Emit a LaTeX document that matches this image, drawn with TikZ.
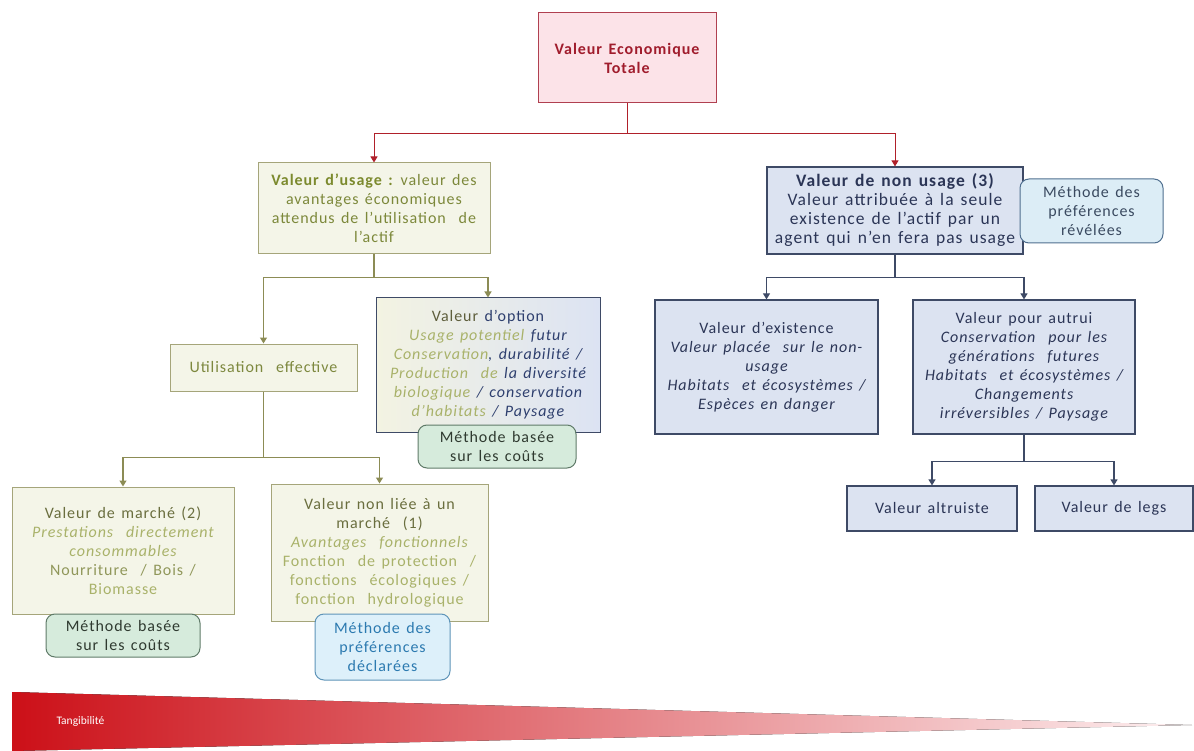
\documentclass[tikz,border=0pt]{standalone}
\usepackage{fontspec}
\setmainfont{Carlito}[LetterSpace=6, WordSpace=1.4]
\newfontfamily\tangfont{Carlito}
\usetikzlibrary{arrows.meta}

\definecolor{vetfill}{HTML}{FCE3E8}
\definecolor{vetdraw}{HTML}{B04050}
\definecolor{vettext}{HTML}{A01C2C}
\definecolor{redline}{HTML}{B0202A}
\definecolor{olvfill}{HTML}{F4F5E8}
\definecolor{olvdraw}{HTML}{A5A57A}
\definecolor{olvline}{HTML}{8C8C55}
\definecolor{olvhead}{HTML}{7C8A2E}
\definecolor{olvtext}{HTML}{6A6E3E}
\definecolor{olvlight}{HTML}{A9B26A}
\definecolor{olvgray}{HTML}{5E5E3C}
\definecolor{nvyfill}{HTML}{DCE3F1}
\definecolor{nvydraw}{HTML}{3E4A66}
\definecolor{nvytext}{HTML}{2B3556}
\definecolor{nvyitem}{HTML}{2E3F6E}
\definecolor{grnfill}{HTML}{D6EBDC}
\definecolor{grndraw}{HTML}{5F7A68}
\definecolor{grntext}{HTML}{2F3A30}
\definecolor{blufill}{HTML}{DDF0FA}
\definecolor{bludraw}{HTML}{5E94B8}
\definecolor{blutext}{HTML}{2C7AB0}
\definecolor{revfill}{HTML}{DCEDF6}
\definecolor{revdraw}{HTML}{4F6F8F}
\definecolor{revtext}{HTML}{3A4A60}
\definecolor{optleft}{HTML}{F3F3E2}
\definecolor{optright}{HTML}{DCE3F3}
\definecolor{tangred}{HTML}{CC1018}
\definecolor{tanglight}{HTML}{FDF0F1}

\tikzset{
  box/.style={draw, inner sep=0pt, align=center, font=\fontsize{16}{19}\selectfont},
  vetbox/.style={box, fill=vetfill, draw=vetdraw, line width=1pt, text=vettext},
  olvbox/.style={box, fill=olvfill, draw=olvdraw, line width=1pt, text=olvtext},
  nvybox/.style={box, fill=nvyfill, draw=nvydraw, line width=1.2pt, text=nvytext},
  grnmeth/.style={box, rounded corners=9pt, fill=grnfill, draw=grndraw, line width=1pt, text=grntext},
  blumeth/.style={box, rounded corners=9pt, fill=blufill, draw=bludraw, line width=1pt, text=blutext},
  revmeth/.style={box, rounded corners=9pt, fill=revfill, draw=revdraw, line width=1pt, text=revtext},
  tip/.style={-{Triangle[width=7pt,length=6pt]}},
  redlink/.style={draw=redline, line width=1pt},
  olvlink/.style={draw=olvline, line width=1.2pt},
  nvylink/.style={draw=nvydraw, line width=1.2pt},
}

\begin{document}
\begin{tikzpicture}[x=1pt, y=-1pt]
\useasboundingbox (0,0) rectangle (1194,751);

% Top level
\node[vetbox, minimum width=178pt, minimum height=90pt] (vet) at (627,58)
  {\bfseries Valeur Economique\\\bfseries Totale};

% Second level
\node[olvbox, minimum width=232pt, minimum height=91pt] (usage) at (374,208.5)
  {{\bfseries\color{olvhead}Valeur d’usage :} {\color{olvhead!85!gray}valeur des}\\
   {\color{olvhead!85!gray}avantages économiques}\\
   {\color{olvhead!85!gray}attendus de l’utilisation\ \ de}\\
   {\color{olvhead!85!gray}l’actif}};
\node[nvybox, minimum width=256pt, minimum height=87pt, font=\fontsize{17.5}{19}\selectfont] (nonusage) at (895,210.5)
  {\bfseries Valeur de non usage (3)\\Valeur attribuée à la seule\\existence de l’actif par un\\agent qui n’en fera pas usage};
\node[revmeth, minimum width=143pt, minimum height=64pt] (revel) at (1091.5,211)
  {Méthode des\\préférences\\révélées};

% Use branch
\node[olvbox, minimum width=187pt, minimum height=47pt, text=olvhead!80!gray] (util) at (263.5,367.5)
  {Utilisation\ \ effective};
\node[box, minimum width=224pt, minimum height=134pt, left color=optleft, right color=optright, draw=nvydraw, line width=1pt, text=olvgray] (option) at (488,365)
  {Valeur {\color{nvyitem}d’option}\\
   \itshape{\color{olvlight}Usage potentiel} {\color{nvyitem}futur}\\
   \itshape{\color{olvlight}Conservation}{\color{nvyitem}, durabilité /}\\
   \itshape{\color{olvlight}Production\ \ de} {\color{nvyitem}la diversité}\\
   \itshape{\color{olvlight}biologique} {\color{nvyitem}/ conservation}\\
   \itshape{\color{olvlight}d’habitats} {\color{nvyitem}/ Paysage}};
\node[grnmeth, minimum width=158pt, minimum height=43pt] (methopt) at (497,446.5)
  {Méthode basée\\sur les coûts};

\node[olvbox, minimum width=222pt, minimum height=127pt] (marche) at (123,550.5)
  {Valeur de marché (2)\\
   {\itshape\color{olvlight}Prestations\ \ directement}\\
   {\itshape\color{olvlight}consommables}\\
   {\color{olvlight!85!black}Nourriture\ \ / Bois /}\\
   {\color{olvlight}Biomasse}};
\node[grnmeth, minimum width=154pt, minimum height=43pt] (methmar) at (123,635.5)
  {Méthode basée\\sur les coûts};

\node[olvbox, minimum width=217pt, minimum height=137pt] (nonlie) at (379.5,552.5)
  {Valeur non liée à un\\marché\ \ (1)\\
   {\itshape\color{olvlight}Avantages\ \ fonctionnels}\\
   {\color{olvlight}Fonction\ \ de protection\ \ /}\\
   {\color{olvlight}fonctions\ \ écologiques /}\\
   {\color{olvlight}fonction\ \ hydrologique}};
\node[blumeth, minimum width=135pt, minimum height=66pt] (declar) at (382.5,647)
  {Méthode des\\préférences\\déclarées};

% Non-use branch
\node[nvybox, minimum width=223pt, minimum height=134pt] (exist) at (766.5,367)
  {Valeur d’existence\\
   \itshape Valeur placée\ \ sur le non-\\
   \itshape usage\\
   \itshape Habitats\ \ et écosystèmes /\\
   \itshape Espèces en danger};
\node[nvybox, minimum width=222pt, minimum height=134pt] (autrui) at (1024,367)
  {Valeur pour autrui\\
   \itshape Conservation\ \ pour les\\
   \itshape générations\ \ futures\\
   \itshape Habitats\ \ et écosystèmes /\\
   \itshape Changements\\
   \itshape irréversibles / Paysage};
\node[nvybox, minimum width=170pt, minimum height=45pt] (altru) at (932,508.5) {Valeur altruiste};
\node[nvybox, minimum width=158pt, minimum height=45pt] (legs) at (1114,508.5) {Valeur de legs};

% Connectors
\draw[redlink] (vet.south) -- ++(0,30) coordinate (jr);
\draw[redlink, tip] (jr) -| (usage.north);
\draw[redlink, tip] (jr) -| (nonusage.north);

\draw[olvlink] (usage.south) -- ++(0,23) coordinate (ju);
\draw[olvlink, tip] (ju) -| (util.north);
\draw[olvlink, tip] (ju) -| (option.north);

\draw[olvlink] (util.south) -- ++(0,66) coordinate (je);
\draw[olvlink, tip] (je) -| (marche.north);
\draw[olvlink, tip] (je) -| (nonlie.north);

\draw[nvylink] (nonusage.south) -- ++(0,23) coordinate (jn);
\draw[nvylink, tip] (jn) -| (exist.north);
\draw[nvylink, tip] (jn) -| (autrui.north);

\draw[nvylink] (autrui.south) -- ++(0,27) coordinate (ja);
\draw[nvylink, tip] (ja) -| (altru.north);
\draw[nvylink, tip] (ja) -| (legs.north);

% Tangibility wedge
\fill[left color=tangred, right color=tanglight] (12,692) -- (1192,725) -- (12,751) -- cycle;
\node[text=white, font=\tangfont\fontsize{11.5}{13}\selectfont, anchor=west] (tang) at (53,721) {Tangibilité};
\end{tikzpicture}
\end{document}
